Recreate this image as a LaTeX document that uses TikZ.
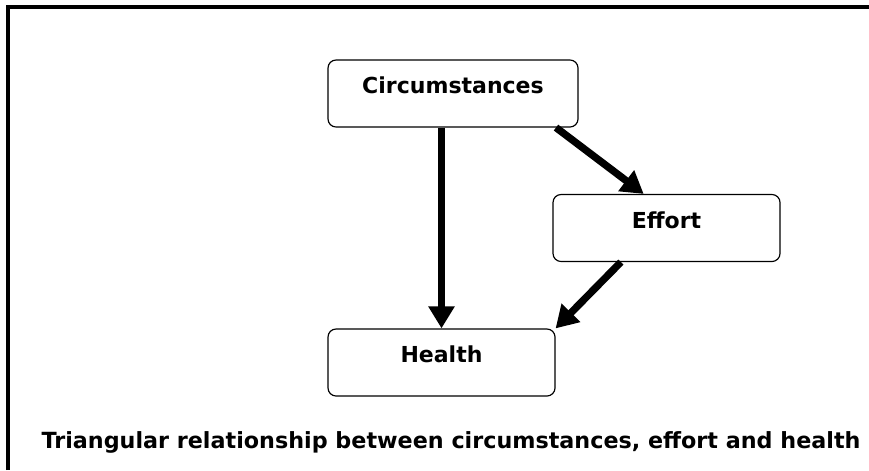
\documentclass[tikz,border=0pt]{standalone}
\usepackage{fontspec}
\setmainfont{DejaVu Sans}
\usetikzlibrary{calc, arrows.meta, positioning}

\begin{document}
\begin{tikzpicture}[
    box/.style={draw, rounded corners=0.24cm, line width=1pt, minimum width=#1, minimum height=2.01cm, inner sep=0pt, text height=0.38cm, text depth=0.38cm, font=\fontsize{18.8}{22}\selectfont\bfseries},
    arrow/.style={-{Triangle[length=0.66cm, width=0.75cm]}, line width=0.22cm}
]
\useasboundingbox (0,0) rectangle (26.07,14.1);
% frame (top and left only)
\draw[line width=0.12cm] (0.225,0) -- (0.225,13.905) -- (26.07,13.905);

\node[box=7.5cm] (circ) at (13.59, 11.295) {Circumstances};
\node[box=6.81cm] (effort) at (19.995, 7.26) {Effort};
\node[box=6.81cm] (health) at (13.245, 3.225) {Health};
\node[font=\fontsize{19}{22}\selectfont\bfseries, anchor=base] (caption) at (13.53, 0.66) {Triangular relationship between circumstances, effort and health};

\draw[arrow] (circ.south -| health.north) -- (health.north);
\draw[arrow] ($(circ.south west)!0.91!(circ.south east)$) -- ($(effort.north west)!0.4!(effort.north east)$);
\draw[arrow] ($(effort.south west)!0.3!(effort.south east)$) -- (health.north east);
\end{tikzpicture}
\end{document}
